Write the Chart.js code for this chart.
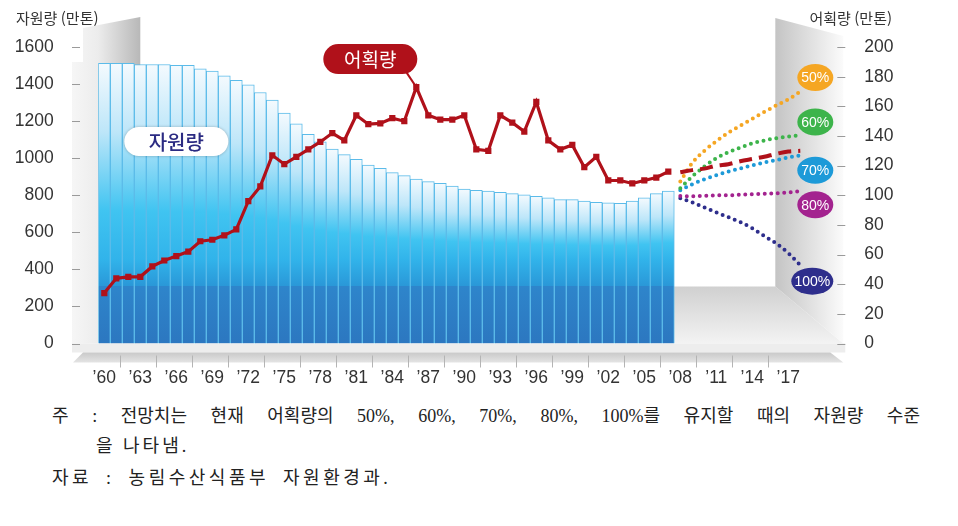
<!DOCTYPE html>
<html lang="ko">
<head>
<meta charset="utf-8">
<script src="https://cdn.jsdelivr.net/npm/chart.js@4.4.1/dist/chart.umd.min.js"></script>
<style>
  html, body { margin: 0; padding: 0; background: #fff; }
  body { width: 958px; height: 526px; position: relative; overflow: hidden; }
  #chart { position: absolute; left: 0; top: 0; }
  .note { position: absolute; font-family: "Liberation Serif", "Noto Sans CJK KR", serif; font-size: 18px; color: #222; }
  #n1 { left: 52px; top: 401px; width: 868px; text-align: justify; text-align-last: justify; }
  #n2 { left: 96px; top: 431px; letter-spacing: 3px; white-space: nowrap; }
  #n3 { left: 52px; top: 463px; letter-spacing: 3.5px; word-spacing: 6px; white-space: nowrap; }
</style>
</head>
<body>
<canvas id="chart" width="958" height="395"></canvas>
<div class="note" id="n1">주 : 전망치는 현재 어획량의 50%, 60%, 70%, 80%, 100%를 유지할 때의 자원량 수준</div>
<div class="note" id="n2">을 나타냄.</div>
<div class="note" id="n3">자료 : 농림수산식품부 자원환경과.</div>
<script>
// x categories: one per year, the axis runs a little past the projections
const years = [];
for (let y = 1960; y <= 2021; y++) years.push(y);
const tickLabels = ['’60', '’63', '’66', '’69', '’72', '’75', '’78', '’81', '’84', '’87',
                    '’90', '’93', '’96', '’99', '’02', '’05', '’08', '’11', '’14', '’17'];

// 자원량 (만톤), 1960-2007
const resource = [1513, 1513, 1513, 1506, 1506, 1506, 1501, 1501, 1483, 1470,
                  1445, 1420, 1397, 1355, 1314, 1244, 1186, 1129, 1089, 1050,
                  1020, 994, 963, 945, 922, 906, 888, 874, 865, 850,
                  834, 827, 823, 816, 809, 802, 795, 786, 777, 777,
                  769, 762, 759, 757, 769, 786, 809, 823];

// 어획량 (만톤), 1960-2007
const catchAmt = [34, 44, 45, 45, 52, 56, 59, 62, 69, 70,
                  73, 77, 96, 106, 127, 121, 126, 131, 136, 142,
                  137, 154, 148, 148.5, 152, 150, 173, 154, 151, 151,
                  154, 131, 130, 154, 149, 143, 163, 137, 131, 134,
                  119, 126, 110, 110, 108, 110, 112, 116];

// projections 2008-2018
const projStart = 2008;
const catchProj = [115.5, 117, 118, 120, 121, 123, 124.5, 126, 128, 129.5, 130];
const scenarios = ['50%', '60%', '70%', '80%', '100%'];
const proj50  = [875, 975, 1040, 1092, 1138, 1176, 1213, 1250, 1285, 1318, 1360];
const proj60  = [838, 902, 955, 1000, 1032, 1058, 1080, 1096, 1108, 1117, 1123];
const proj70  = [827, 860, 886, 908, 928, 945, 962, 977, 990, 1004, 1016];
const proj80  = [796, 795, 797, 800, 800, 803, 806, 808, 811, 816, 822];
const proj100 = [784, 762, 735, 708, 682, 655, 622, 580, 540, 488, 423];

// ---- styles ----
const RED = '#b0111a';
const scenColors = ['#f5a623', '#3db44b', '#1d9ad8', '#a3238f', '#2e2e8c'];
const pillOffsets = [[15, -14], [15, -13.5], [15, 15], [15, 13.5], [12, 16]];
const FLOOR_DEPTH = 57;
const TICK_FONT = { family: '"Liberation Sans", Arial, sans-serif', size: 17.5 };
const KR_FONT = '"Noto Sans CJK KR", "Noto Sans", sans-serif';

function fromYear(start, values) {
  const out = years.map(() => null);
  values.forEach((v, i) => { out[years.indexOf(start) + i] = v; });
  return out;
}

function barFill(c) {
  const chart = c.chart;
  if (!chart.chartArea || c.raw == null) return '#38bdee';
  const ys = chart.scales.y;
  const top = ys.getPixelForValue(c.raw);
  const bot = ys.getPixelForValue(0);
  const floorY = bot - FLOOR_DEPTH;
  const h = bot - top;
  const f = (y) => Math.min(1, Math.max(0, (y - top) / h));
  const g = chart.ctx.createLinearGradient(0, top, 0, bot);
  g.addColorStop(0, '#f4fafe');
  g.addColorStop(f(top + (260 - top) * 0.35), '#bde6f9');
  g.addColorStop(f(top + (260 - top) * 0.75), '#40c4f1');
  g.addColorStop(f(260), '#31b3ea');
  g.addColorStop(f(floorY - 1), '#2a98d8');
  g.addColorStop(f(floorY), '#2e85cb');
  g.addColorStop(1, '#2c77c0');
  return g;
}

function pill(ctx, cx, cy, w, h, fill) {
  ctx.beginPath();
  ctx.roundRect(cx - w / 2, cy - h / 2, w, h, h / 2);
  ctx.fillStyle = fill;
  ctx.fill();
}

const decor = {
  id: 'decor',
  beforeDraw(chart) {
    const { ctx, chartArea: a } = chart;
    const floorY = a.bottom - FLOOR_DEPTH;
    ctx.save();
    // left wall
    let g = ctx.createLinearGradient(72, 0, a.left + 42, 0);
    g.addColorStop(0, '#f6f6f6');
    g.addColorStop((a.left - 72) / (a.left + 42 - 72), '#ececec');
    g.addColorStop(1, '#b8b8b8');
    ctx.fillStyle = g;
    ctx.beginPath();
    ctx.moveTo(83, 28); ctx.lineTo(a.left + 42, 17); ctx.lineTo(a.left + 42, a.bottom);
    ctx.lineTo(72, a.bottom); ctx.lineTo(72, 62); ctx.lineTo(83, 62);
    ctx.closePath(); ctx.fill();
    // floor
    g = ctx.createLinearGradient(0, floorY, 0, a.bottom);
    g.addColorStop(0, '#d0d0d0');
    g.addColorStop(1, '#f3f3f3');
    ctx.fillStyle = g;
    ctx.beginPath();
    ctx.moveTo(a.left, floorY); ctx.lineTo(a.right - 67, floorY);
    ctx.lineTo(a.right + 1, a.bottom); ctx.lineTo(a.left, a.bottom);
    ctx.closePath(); ctx.fill();
    // right wall
    g = ctx.createLinearGradient(a.right - 67, 0, a.right + 1, 0);
    g.addColorStop(0, '#c4c4c4');
    g.addColorStop(1, '#fbfbfb');
    ctx.fillStyle = g;
    ctx.beginPath();
    ctx.moveTo(a.right - 67, 18); ctx.lineTo(a.right + 1, 36);
    ctx.lineTo(a.right + 1, a.bottom); ctx.lineTo(a.right - 67, floorY);
    ctx.closePath(); ctx.fill();
    // front edge of the floor
    ctx.fillStyle = '#ededed';
    ctx.fillRect(72, a.bottom, a.right + 3 - 72, 9);
    g = ctx.createLinearGradient(0, a.bottom + 9, 0, a.bottom + 19);
    g.addColorStop(0, '#c9c9c9');
    g.addColorStop(1, '#e4e4e4');
    ctx.fillStyle = g;
    ctx.beginPath();
    ctx.moveTo(83, a.bottom + 9); ctx.lineTo(a.right - 12, a.bottom + 9);
    ctx.lineTo(a.right + 1, a.bottom + 19); ctx.lineTo(73, a.bottom + 19);
    ctx.closePath(); ctx.fill();
    ctx.restore();
  },
  afterDraw(chart) {
    const { ctx, chartArea: a, scales } = chart;
    ctx.save();
    // axis tick marks
    ctx.strokeStyle = '#9a9a9a';
    ctx.lineWidth = 1;
    scales.y.ticks.forEach(t => {
      const y = Math.round(scales.y.getPixelForValue(t.value)) + 0.5;
      ctx.beginPath(); ctx.moveTo(72, y); ctx.lineTo(80, y); ctx.stroke();
    });
    scales.y1.ticks.forEach(t => {
      const y = Math.round(scales.y1.getPixelForValue(t.value)) + 0.5;
      ctx.beginPath(); ctx.moveTo(a.right - 5, y); ctx.lineTo(a.right + 3, y); ctx.stroke();
    });
    // separators between year labels
    ctx.strokeStyle = '#b4b4b4';
    for (let i = 1; i < years.length - 1; i += 3) {
      if (years[i + 1] > 2016) break;
      const x = Math.round((scales.x.getPixelForValue(i) + scales.x.getPixelForValue(i + 1)) / 2) - 1.5;
      ctx.beginPath(); ctx.moveTo(x, a.bottom + 12); ctx.lineTo(x, a.bottom + 24); ctx.stroke();
    }
    // axis titles
    ctx.fillStyle = '#333';
    ctx.font = '15px ' + KR_FONT;
    ctx.textBaseline = 'middle';
    ctx.textAlign = 'left';
    ctx.fillText('자원량 (만톤)', 16, 18);
    ctx.textAlign = 'right';
    ctx.fillText('어획량 (만톤)', 892, 18);

    // 어획량 label at the peak
    const lineMeta = chart.getDatasetMeta(0);
    let pk = 0;
    catchAmt.forEach((v, i) => { if (v > catchAmt[pk]) pk = i; });
    const peak = lineMeta.data[pk];
    const pcx = peak.x - 46, pcy = peak.y - 28;
    ctx.strokeStyle = RED; ctx.lineWidth = 2;
    ctx.beginPath(); ctx.moveTo(pcx + 36, pcy + 13); ctx.lineTo(peak.x, peak.y); ctx.stroke();
    pill(ctx, pcx, pcy, 94, 30, RED);
    ctx.fillStyle = '#fff';
    ctx.textAlign = 'center';
    ctx.font = '19px ' + KR_FONT;
    ctx.fillText('어획량', pcx, pcy + 1);

    // 자원량 label
    const rx = scales.x.getPixelForValue(years.indexOf(1966));
    const ry = scales.y.getPixelForValue(1090);
    ctx.shadowColor = 'rgba(0,0,0,0.25)'; ctx.shadowBlur = 3;
    pill(ctx, rx, ry, 104, 29, '#fff');
    ctx.shadowColor = 'transparent';
    ctx.fillStyle = '#2b2b82';
    ctx.font = '500 20px ' + KR_FONT;
    ctx.fillText('자원량', rx, ry + 1);

    // scenario labels at the end of each projection
    scenarios.forEach((s, k) => {
      const meta = chart.getDatasetMeta(2 + k);
      const idx = years.indexOf(projStart) + proj50.length - 1;
      const p = meta.data[idx];
      const cx = p.x + pillOffsets[k][0], cy = p.y + pillOffsets[k][1];
      const rw = s.length > 3 ? 21 : 18;
      ctx.beginPath();
      ctx.ellipse(cx, cy, rw, 13.5, 0, 0, Math.PI * 2);
      ctx.fillStyle = scenColors[k];
      ctx.fill();
      ctx.fillStyle = '#fff';
      ctx.font = '14px "Liberation Sans", Arial, sans-serif';
      ctx.fillText(s, cx, cy + 1);
    });
    ctx.restore();
  }
};

const projections = [proj50, proj60, proj70, proj80, proj100];

new Chart(document.getElementById('chart'), {
  type: 'bar',
  data: {
    labels: years,
    datasets: [
      {
        type: 'line', label: '어획량', data: fromYear(1960, catchAmt), yAxisID: 'y1', order: 1,
        borderColor: RED, backgroundColor: RED, borderWidth: 3.2, tension: 0,
        pointStyle: 'rect', pointRadius: 4.4, pointHoverRadius: 4.4, pointBorderWidth: 0
      },
      {
        type: 'line', label: '어획량 전망', data: fromYear(projStart, catchProj), yAxisID: 'y1', order: 1,
        borderColor: RED, borderWidth: 4, borderDash: [13, 7], pointRadius: 0,
        cubicInterpolationMode: 'monotone'
      },
      ...projections.map((p, k) => ({
        type: 'line', label: scenarios[k], data: fromYear(projStart, p), yAxisID: 'y', order: 2,
        borderColor: scenColors[k], borderWidth: 4, borderDash: [0, 6.5], borderCapStyle: 'round',
        pointRadius: 0, cubicInterpolationMode: 'monotone'
      })),
      {
        type: 'bar', label: '자원량', data: fromYear(1960, resource), yAxisID: 'y', order: 5,
        backgroundColor: barFill, borderColor: '#5bbbe9', borderWidth: 1,
        categoryPercentage: 1, barPercentage: 1
      }
    ]
  },
  options: {
    responsive: false,
    animation: false,
    events: [],
    layout: { padding: { top: 46.7, left: 0, right: 0, bottom: 0 } },
    plugins: { legend: { display: false }, tooltip: { enabled: false } },
    scales: {
      x: {
        offset: true,
        grid: { display: false },
        border: { display: false },
        ticks: {
          autoSkip: false, maxRotation: 0, font: TICK_FONT, color: '#333', padding: 16,
          callback: (v, i) => {
            const lab = '’' + String(years[i]).slice(2);
            return tickLabels.includes(lab) ? lab : '';
          }
        },
        afterFit: (s) => { s.height = 51.5; }
      },
      y: {
        position: 'left', min: 0, max: 1600,
        grid: { display: false }, border: { display: false },
        ticks: { stepSize: 200, padding: 36.6, font: TICK_FONT, color: '#333', callback: (v) => String(v) },
        afterFit: (s) => { s.width = 98.3; }
      },
      y1: {
        position: 'right', min: 0, max: 200,
        grid: { display: false }, border: { display: false },
        ticks: { stepSize: 20, padding: 14, font: TICK_FONT, color: '#333', callback: (v) => String(v) },
        afterFit: (s) => { s.width = 115.7; }
      }
    }
  },
  plugins: [decor]
});
</script>
</body>
</html>
